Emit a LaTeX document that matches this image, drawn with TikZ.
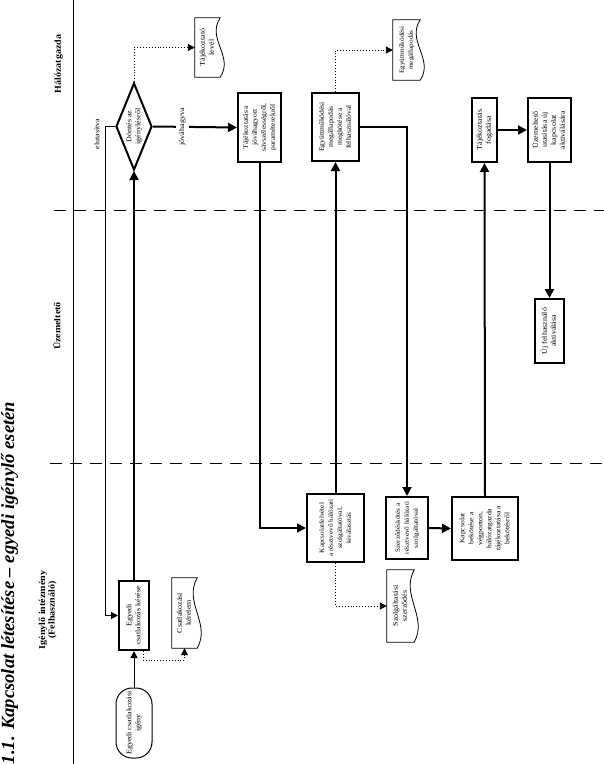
\documentclass[tikz,border=0pt]{standalone}
\usepackage{fontspec}
\setmainfont{Liberation Serif}
\newfontfamily\titlefont{Liberation Serif Bold Italic}
\usepackage{graphicx}
\usetikzlibrary{arrows.meta,shapes.geometric,calc}
\newcommand{\rt}[2][8]{\rotatebox{90}{\scalebox{1}[0.9]{\fontsize{#1}{10}\selectfont\begin{tabular}{@{}c@{}}#2\end{tabular}}}}
\newcommand{\rtb}[1]{\rotatebox{90}{\scalebox{1}[0.9]{\fontsize{10}{10.5}\selectfont\bfseries\begin{tabular}{@{}c@{}}#1\end{tabular}}}}
\newcommand{\docoutline}[1]{\draw[docline] (#1.north west) -- (#1.north east) .. controls ($(#1.north east)!0.35!(#1.south east)+(-14pt,0pt)$) and ($(#1.north east)!0.65!(#1.south east)+(14pt,0pt)$) .. (#1.south east) -- (#1.south west) -- cycle;}
\begin{document}
\begin{tikzpicture}[x=1pt,y=-1pt,
  proc/.style={draw, line width=2pt, inner sep=0pt, align=center},
  term/.style={draw, line width=1pt, rounded corners=16pt, inner sep=0pt},
  decis/.style={draw, shape=diamond, line width=2pt, inner sep=0pt, shape aspect=0.42},
  doc/.style={inner sep=0pt},
  docline/.style={line width=0.8pt},
  thickarrow/.style={line width=2pt, -{Triangle[length=9pt,width=9pt]}},
  thinarrow/.style={line width=1pt, -{Triangle[length=7pt,width=7pt]}},
  dotarrow/.style={line width=0.9pt, dotted, -{Triangle[length=7pt,width=7pt]}},
  lane/.style={line width=1pt},
  lanedash/.style={line width=0.9pt, dash pattern=on 12pt off 8pt},
  lbl/.style={inner sep=1pt}
]
\useasboundingbox (0,0) rectangle (604,764);
\fill[white] (0,0) rectangle (604,764);

% swimlanes
\draw[lane] (73,0) -- (73,764);
\draw[lanedash] (54,210) -- (604,210);
\draw[lanedash] (50,463) -- (604,463);

\node (title) at (9.5,583) {\rotatebox{90}{\fontsize{18.6}{20}\selectfont\titlefont 1.1. Kapcsolat létesítése – egyedi igénylő esetén}};
\node (lhg) at (59,64) {\rtb{Hálózatgazda}};
\node (luz) at (58,326) {\rtb{Üzemeltető}};
\node (lig) at (48,610) {\rtb{Igénylő intézmény\\(Felhasználó)}};

% nodes
\node[term, minimum width=36pt, minimum height=70pt] (term) at (134,723) {\rt{Egyedi csatlakozási\\igény}};
\node[proc, minimum width=30pt, minimum height=69pt] (egy) at (134,615.5) {\rt{Egyedi\\csatlakozás kérése}};
\node[decis, minimum width=36pt, minimum height=87pt] (dec) at (134,126.5) {\rt{Döntés az\\igénylésről}};
\node[proc, minimum width=43pt, minimum height=69pt] (tajek) at (259.5,127.5) {\rt[7.6]{Tájékoztatás a\\jóváhagyott\\sávszélességről,\\paraméterekről}};
\node[proc, minimum width=57pt, minimum height=68pt] (kapcs) at (335.5,528) {\rt[7.2]{Kapcsolatfelvétel\\a résztvevő hálózati\\szolgáltatóval,\\kiválasztás}};
\node[proc, minimum width=47pt, minimum height=68pt] (egyutt) at (335.5,127) {\rt[7.6]{Együttműködési\\megállapodás\\megkötése a\\felhasználóval}};
\node[proc, minimum width=42pt, minimum height=62pt] (szerz) at (407,528) {\rt[7.2]{Szerződéskötés a\\résztvevő hálózati\\szolgáltatóval}};
\node[proc, minimum width=66pt, minimum height=63pt] (bekot) at (485,528.5) {\rt[7.6]{Kapcsolat\\bekötése a\\végponton,\\hálózatgazda\\tájékoztatása a\\bekötésről}};
\node[proc, minimum width=25pt, minimum height=64pt] (tajfog) at (484.5,130) {\rt{Tájékoztatás\\fogadása}};
\node[proc, minimum width=43pt, minimum height=64pt] (uzem) at (549.5,130) {\rt{Üzemeltető\\utasítása új\\kapcsolat\\aktiválására}};
\node[proc, minimum width=29pt, minimum height=64pt] (uj) at (549.5,331) {\rt{Új felhasználó\\aktiválása}};

% documents
\node[doc, minimum width=25pt, minimum height=59pt] (doc1) at (207.5,47.5) {\rt{Tájékoztató\\levél}};
\node[doc, minimum width=27pt, minimum height=60pt] (doc2) at (406.5,50) {\rt[7.2]{Együttműködési\\megállapodás}};
\node[doc, minimum width=25pt, minimum height=70pt] (doc3) at (184.5,613) {\rt{Csatlakozási\\kérelem}};
\node[doc, minimum width=27pt, minimum height=72pt] (doc4) at (400.5,606) {\rt{Szolgáltatási\\szerződés}};
\docoutline{doc1}
\docoutline{doc2}
\docoutline{doc3}
\docoutline{doc4}

% connectors
\draw[thinarrow] (term) -- (egy);
\draw[thickarrow] (egy) -- (dec);
\draw[thinarrow] (dec.west) -- ++(-10,0) |- (egy.west);
\node[lbl] (lelut) at (97.5,134) {\rt{elutasítva}};
\draw[thickarrow] (dec.east) -- node[pos=0.35, fill=white, inner sep=2pt] (ljov) {\rt{jóváhagyva}} (tajek.west);
\draw[thickarrow] (tajek.south) |- (kapcs.west);
\draw[thickarrow] (kapcs.north) -- (egyutt.south);
\draw[thickarrow] (egyutt.east) -| (szerz.north);
\draw[thickarrow] (szerz.east) -- (bekot.west);
\draw[thickarrow] (bekot.north) -- (tajfog.south);
\draw[thickarrow] (tajfog.east) -- (uzem.west);
\draw[thickarrow] (uzem.south) -- (uj.north);

\draw[dotarrow] (dec.north) |- (doc1.west);
\draw[dotarrow] (egyutt.north) |- (doc2.west);
\draw[dotarrow] ($(egy.south)+(9pt,0pt)$) -- ++(0,9) -| (doc3.south);
\draw[dotarrow] (kapcs.south) |- (doc4.west);
\end{tikzpicture}
\end{document}
